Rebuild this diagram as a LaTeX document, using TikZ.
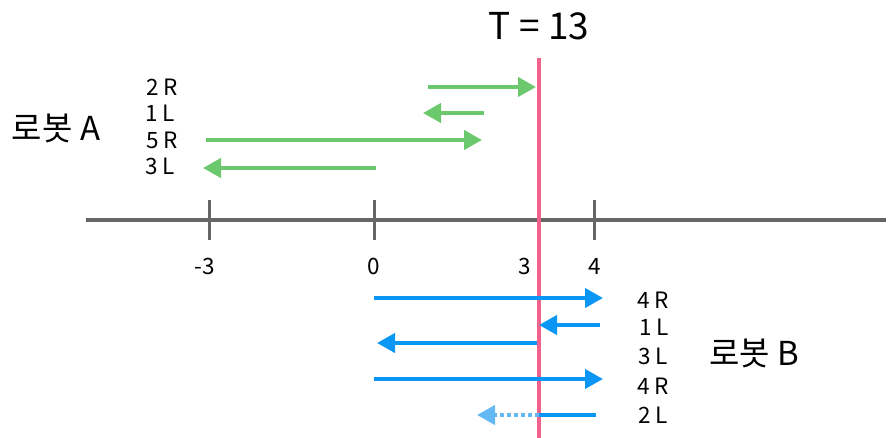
\documentclass[tikz,border=0pt]{standalone}
\usepackage{fontspec}
\setmainfont{Noto Sans CJK KR}
\usetikzlibrary{arrows.meta}
\definecolor{agreen}{RGB}{108,200,108}
\definecolor{bblue}{RGB}{10,150,245}
\definecolor{lblue}{RGB}{100,185,245}
\definecolor{tpink}{RGB}{240,98,140}
\definecolor{axgray}{RGB}{102,102,102}
\tikzset{
  lbl/.style={inner sep=0pt,font=\fontsize{22.5}{26}\selectfont},
  big/.style={inner sep=0pt,font=\fontsize{33}{37}\selectfont},
  garrow/.style={draw=agreen,line width=4pt,-{Triangle[length=18pt,width=19pt]}},
  barrow/.style={draw=bblue,line width=4pt,-{Triangle[length=18pt,width=19pt]}},
  bline/.style={draw=bblue,line width=4pt},
  larrow/.style={draw=lblue,line width=4pt,dash pattern=on 4pt off 3pt,-{Triangle[length=18pt,width=19pt]}},
  tick/.style={draw=axgray,line width=3pt},
}
\begin{document}
\begin{tikzpicture}[x=1pt,y=-1pt]
\useasboundingbox (0,0) rectangle (890,438);
% axis
\coordinate (axL) at (86,220);
\coordinate (axR) at (886,220);
\draw[axgray,line width=4pt] (axL) -- (axR);
\foreach \n/\x in {m3/209,z/374,f/594}{
  \coordinate (t\n a) at (\x,200);
  \coordinate (t\n b) at (\x,240);
  \draw[tick] (t\n a) -- (t\n b);
}
\node[lbl] (lm3) at (205,266) {-3};
\node[lbl] (l0) at (374,266) {0};
\node[lbl] (l3) at (525,266) {3};
\node[lbl] (l4) at (595,266) {4};
% time line
\coordinate (pT) at (539,58);
\coordinate (pB) at (539,438);
\draw[tpink,line width=3.5pt] (pT) -- (pB);
\node[inner sep=0pt,font=\fontsize{37}{41}\selectfont] (title) at (539,26) {T = 13};
% robot A
\node[big] (ra) at (56,128) {로봇 A};
\node[lbl] (a1) at (162,87) {2 R};
\node[lbl] (a2) at (160,113) {1 L};
\node[lbl] (a3) at (162,140) {5 R};
\node[lbl] (a4) at (160,166) {3 L};
\coordinate (a1s) at (428,87);  \coordinate (a1e) at (536,87);
\coordinate (a2s) at (484,113); \coordinate (a2e) at (423,113);
\coordinate (a3s) at (206,140); \coordinate (a3e) at (482,140);
\coordinate (a4s) at (376,168); \coordinate (a4e) at (203,168);
\draw[garrow] (a1s) -- (a1e);
\draw[garrow] (a2s) -- (a2e);
\draw[garrow] (a3s) -- (a3e);
\draw[garrow] (a4s) -- (a4e);
% robot B
\node[big] (rb) at (754,353) {로봇 B};
\node[lbl] (b1) at (653,300) {4 R};
\node[lbl] (b2) at (654,327) {1 L};
\node[lbl] (b3) at (653,356) {3 L};
\node[lbl] (b4) at (653,386) {4 R};
\node[lbl] (b5) at (653,415) {2 L};
\coordinate (b1s) at (374,298); \coordinate (b1e) at (603,298);
\coordinate (b2s) at (600,325); \coordinate (b2e) at (539,325);
\coordinate (b3s) at (537,343); \coordinate (b3e) at (377,343);
\coordinate (b4s) at (374,379); \coordinate (b4e) at (603,379);
\coordinate (b5s) at (596,415); \coordinate (b5m) at (539,415); \coordinate (b5e) at (477,415);
\draw[barrow] (b1s) -- (b1e);
\draw[barrow] (b2s) -- (b2e);
\draw[barrow] (b3s) -- (b3e);
\draw[barrow] (b4s) -- (b4e);
\draw[larrow] (b5m) -- (b5e);
\draw[bline] (b5s) -- (b5m);
\end{tikzpicture}
\end{document}
